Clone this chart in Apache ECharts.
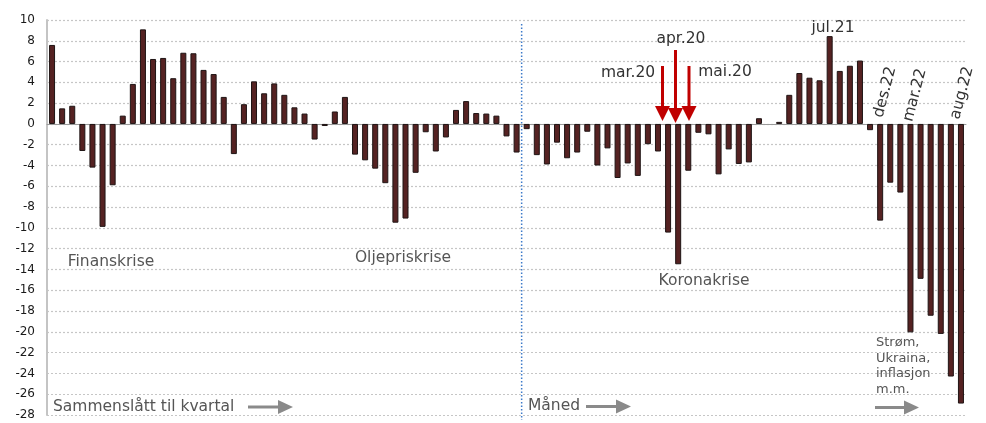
<!DOCTYPE html>
<html><head><meta charset="utf-8">
<script src="https://cdn.jsdelivr.net/npm/echarts@6/dist/echarts.min.js"></script>
<style>html,body{margin:0;padding:0;background:#fff}#c{width:986px;height:423px}</style>
</head><body><div id="c"></div>
<script>
// Categories: quarterly part, then monthly part
const quarters = [
  "2007K2","2007K3","2007K4","2008K1","2008K2","2008K3","2008K4","2009K1","2009K2","2009K3","2009K4",
  "2010K1","2010K2","2010K3","2010K4","2011K1","2011K2","2011K3","2011K4","2012K1","2012K2","2012K3","2012K4",
  "2013K1","2013K2","2013K3","2013K4","2014K1","2014K2","2014K3","2014K4","2015K1","2015K2","2015K3","2015K4",
  "2016K1","2016K2","2016K3","2016K4","2017K1","2017K2","2017K3","2017K4","2018K1","2018K2","2018K3","2018K4"
];
const months = [
  "jan.19","feb.19","mar.19","apr.19","mai.19","jun.19","jul.19","aug.19","sep.19","okt.19","nov.19","des.19",
  "jan.20","feb.20","mar.20","apr.20","mai.20","jun.20","jul.20","aug.20","sep.20","okt.20","nov.20","des.20",
  "jan.21","feb.21","mar.21","apr.21","mai.21","jun.21","jul.21","aug.21","sep.21","okt.21","nov.21","des.21",
  "jan.22","feb.22","mar.22","apr.22","mai.22","jun.22","jul.22","aug.22"
];
const quarterValues = [
  7.6, 1.5, 1.75, -2.6, -4.2, -9.9, -5.9, 0.8, 3.85, 9.1, 6.25,
  6.35, 4.4, 6.85, 6.8, 5.2, 4.8, 2.6, -2.9, 1.9, 4.1, 2.95, 3.9,
  2.8, 1.6, 1.0, -1.5, -0.2, 1.2, 2.6, -2.95, -3.5, -4.3, -5.7, -9.5,
  -9.1, -4.7, -0.8, -2.65, -1.3, 1.35, 2.2, 1.05, 1.0, 0.8, -1.2, -2.75
];
const monthValues = [
  -0.5, -3.0, -3.9, -1.8, -3.3, -2.75, -0.75, -4.0, -2.35, -5.2, -3.8, -5.0,
  -1.95, -2.65, -10.45, -13.5, -4.5, -0.85, -1.0, -4.85, -2.45, -3.85, -3.7, 0.55,
  null, 0.2, 2.8, 4.9, 4.45, 4.2, 8.45, 5.1, 5.6, 6.1, -0.6, -9.3,
  -5.65, -6.6, -20.05, -14.9, -18.45, -20.2, -24.3, -26.9
];
const yMin = -28, yMax = 10, yStep = 2;

const categories = quarters.concat(months);
const values = quarterValues.concat(monthValues);

const FONT = "'DejaVu Sans', Verdana, sans-serif";
const chart = echarts.init(document.getElementById('c'));

const option = {
  animation: false,
  backgroundColor: '#fff',
  grid: { left: 47, right: 20, top: 20, bottom: 8 },
  xAxis: {
    type: 'category', data: categories, boundaryGap: true,
    axisLine: { show: true, onZero: true, lineStyle: { color: '#9a9a9a', width: 1 } },
    axisTick: { show: false }, axisLabel: { show: false }, splitLine: { show: false }
  },
  yAxis: {
    type: 'value', min: yMin, max: yMax, interval: yStep,
    axisLine: { show: true, lineStyle: { color: '#c4c4c4', width: 2 } },
    axisTick: { show: false },
    axisLabel: { color: '#1a1a1a', fontFamily: FONT, fontSize: 12, margin: 12 },
    splitLine: { show: true, lineStyle: { color: '#c6c6c6', type: [2, 2], width: 1.2 } }
  },
  series: [{
    type: 'bar', data: values, barWidth: 6,
    itemStyle: { color: '#552222', borderColor: '#1e1414', borderWidth: 1 }
  }]
};
chart.setOption(option);

// Blue dotted divider between the quarterly and monthly parts
const xa = chart.convertToPixel({ xAxisIndex: 0 }, quarters[quarters.length - 1]);
const xb = chart.convertToPixel({ xAxisIndex: 0 }, months[0]);
const xDiv = (xa + xb) / 2;

function txt(x, y, s, size, color, align, extra) {
  return Object.assign({ type: 'text', x: x, y: y, style: { text: s, fill: color, font: size + 'px ' + FONT, align: align || 'center', verticalAlign: 'middle' } }, extra || {});
}
function grayArrow(x0, x1, y) {
  return [
    { type: 'line', shape: { x1: x0, y1: y, x2: x1 - 14, y2: y }, style: { stroke: '#8a8a8a', lineWidth: 3 } },
    { type: 'polygon', shape: { points: [[x1 - 15, y - 7], [x1, y], [x1 - 15, y + 7]] }, style: { fill: '#8a8a8a' } }
  ];
}
function redArrow(x, yTop, yTip) {
  return [
    { type: 'line', shape: { x1: x, y1: yTop, x2: x, y2: yTip - 12 }, style: { stroke: '#c00000', lineWidth: 3 } },
    { type: 'polygon', shape: { points: [[x - 7.5, yTip - 15], [x + 7.5, yTip - 15], [x, yTip]] }, style: { fill: '#c00000' } }
  ];
}
const rot = 75 * Math.PI / 180;
const g = [
  { type: 'line', shape: { x1: xDiv, y1: 24, x2: xDiv, y2: 420 }, style: { stroke: '#3d7ac9', lineWidth: 1.5, lineDash: [1.5, 2] } },
  txt(111, 262, 'Finanskrise', 15.5, '#555'),
  txt(403, 258, 'Oljepriskrise', 15.5, '#555'),
  txt(704, 281, 'Koronakrise', 15.5, '#555'),
  txt(53, 407, 'Sammenslått til kvartal', 15.5, '#555', 'left'),
  txt(528, 406, 'Måned', 15.5, '#555', 'left'),
  txt(876, 343, 'Strøm,', 13, '#555', 'left'),
  txt(876, 358.5, 'Ukraina,', 13, '#555', 'left'),
  txt(876, 374, 'inflasjon', 13, '#555', 'left'),
  txt(876, 389.5, 'm.m.', 13, '#555', 'left'),
  txt(628, 73, 'mar.20', 15.5, '#333'),
  txt(681, 39, 'apr.20', 15.5, '#333'),
  txt(725, 72, 'mai.20', 15.5, '#333'),
  txt(833, 28, 'jul.21', 15.5, '#333'),
  txt(885, 92, 'des.22', 15.5, '#333', 'center', { rotation: rot }),
  txt(915, 95, 'mar.22', 15.5, '#333', 'center', { rotation: rot }),
  txt(962, 93, 'aug.22', 15.5, '#333', 'center', { rotation: rot })
].concat(grayArrow(248, 293, 407), grayArrow(586, 631, 406.5), grayArrow(875, 919, 407.5),
  redArrow(662.5, 66, 121), redArrow(675.5, 50, 123), redArrow(689, 66, 121));
chart.setOption({ graphic: g });
</script>
</body></html>
